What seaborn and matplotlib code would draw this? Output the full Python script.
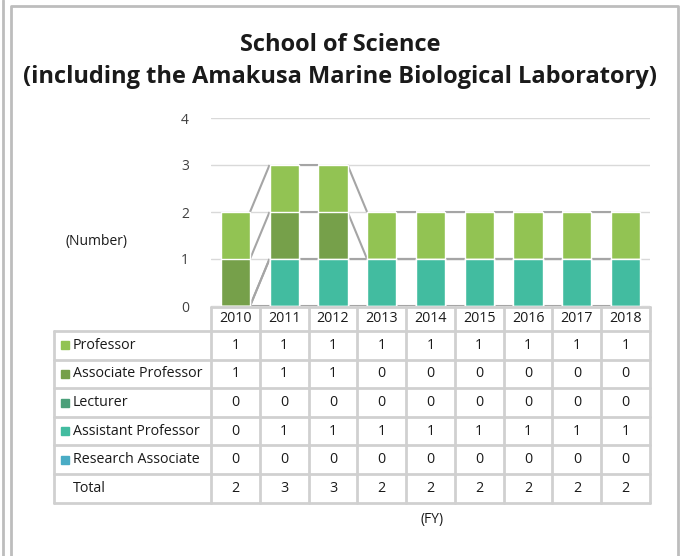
import numpy as np
import pandas as pd
import matplotlib
matplotlib.use("Agg")
import matplotlib.pyplot as plt
import seaborn as sns
from matplotlib.lines import Line2D
from matplotlib.patches import Rectangle

# data
years = ["2010", "2011", "2012", "2013", "2014", "2015", "2016", "2017", "2018"]
professor = [1, 1, 1, 1, 1, 1, 1, 1, 1]
associate_professor = [1, 1, 1, 0, 0, 0, 0, 0, 0]
lecturer = [0, 0, 0, 0, 0, 0, 0, 0, 0]
assistant_professor = [0, 1, 1, 1, 1, 1, 1, 1, 1]
research_associate = [0, 0, 0, 0, 0, 0, 0, 0, 0]

series_names = ["Professor", "Associate Professor", "Lecturer",
                "Assistant Professor", "Research Associate"]
series_vals = [professor, associate_professor, lecturer,
               assistant_professor, research_associate]
colors = ["#92c353", "#76a04a", "#4ba07a", "#42bca0", "#4aacc5"]

df = pd.DataFrame({"FY": years})
for name, vals in zip(series_names, series_vals):
    df[name] = vals
df["Total"] = df[series_names].sum(axis=1)

sns.set_style("white")
plt.rcParams["font.family"] = ["Open Sans", "DejaVu Sans"]

W, H = 681, 556
fig = plt.figure(figsize=(W / 100, H / 100), dpi=100)


def fx(x):
    return x / W


def fy(y):
    return 1 - y / H


# outer frame
fig.add_artist(Line2D([fx(2.5), fx(2.5)], [fy(0), fy(556)], color="#bdbdbd", lw=2))
fig.add_artist(Line2D([fx(10.5), fx(10.5), fx(678), fx(678)],
                      [fy(556), fy(6), fy(6), fy(556)], color="#bdbdbd", lw=2))

x0, x1, y0, y1 = 211, 650, 306, 118
ax = fig.add_axes([fx(x0), fy(y0), (x1 - x0) / W, (y0 - y1) / H])

bw = 0.6
cum = np.zeros(len(years))
cums = []
for vals in reversed(series_vals):
    cum = cum + np.array(vals)
    cums.append(cum.copy())
cums = cums[::-1]  # aligned with series_names order (top first)

for name, c, color in zip(series_names, cums, colors):
    sns.barplot(x=years, y=c, color=color, width=bw, ax=ax,
                saturation=1, zorder=3)

# series lines
for c in cums:
    for i in range(len(years) - 1):
        ax.plot([i + bw / 2, i + 1 - bw / 2], [c[i], c[i + 1]],
                color="#a5a5a5", lw=1.5, zorder=2, solid_capstyle="butt")

ax.set_ylim(0, 4)
ax.set_xlim(-0.5, len(years) - 0.5)
ax.set_yticks([0, 1, 2, 3, 4])
ax.yaxis.grid(True, color="#d9d9d9", lw=1)
ax.set_axisbelow(True)
ax.tick_params(axis="y", labelsize=10, length=0, pad=16, colors="#404040")
ax.set_xticks([])
ax.set_xlabel("")
ax.set_ylabel("")
for s in ax.spines.values():
    s.set_visible(False)

fig.text(fx(340), fy(45), "School of Science", ha="center", va="center",
         fontsize=17, fontweight="bold", color="#1a1a1a")
fig.text(fx(340), fy(77), "(including the Amakusa Marine Biological Laboratory)",
         ha="center", va="center", fontsize=17, fontweight="bold", color="#1a1a1a")
fig.text(fx(96), fy(241), "(Number)", ha="center", va="center", fontsize=10, color="#1a1a1a")
fig.text(fx(432), fy(519), "(FY)", ha="center", va="center", fontsize=10, color="#1a1a1a")

# data table
col_w = (x1 - x0) / len(years)
col_edges = [x0 + i * col_w for i in range(len(years) + 1)]
lab_x0 = 54
hdr_top, hdr_bot = 307, 331
row_h = 28.6
row_names = series_names + ["Total"]
row_vals = series_vals + [list(df["Total"])]
grid_c = "#d0d0d0"

# header row
fig.add_artist(Line2D([fx(x0), fx(x1)], [fy(hdr_top), fy(hdr_top)], color=grid_c, lw=2))
for xe in col_edges:
    fig.add_artist(Line2D([fx(xe), fx(xe)], [fy(hdr_top), fy(hdr_bot + row_h * 6)],
                          color=grid_c, lw=2))
for i, yr in enumerate(years):
    fig.text(fx(x0 + (i + 0.5) * col_w), fy((hdr_top + hdr_bot) / 2), yr,
             ha="center", va="center", fontsize=10.3, color="#1a1a1a")

for r in range(7):
    yy = hdr_bot + r * row_h
    fig.add_artist(Line2D([fx(lab_x0), fx(x1)], [fy(yy), fy(yy)], color=grid_c, lw=2))
fig.add_artist(Line2D([fx(lab_x0), fx(lab_x0)], [fy(hdr_bot), fy(hdr_bot + 6 * row_h)],
                      color=grid_c, lw=2))

for r, (name, vals) in enumerate(zip(row_names, row_vals)):
    yc = hdr_bot + (r + 0.5) * row_h
    if r < len(colors):
        fig.add_artist(Rectangle((fx(61), fy(yc + 4)), 8 / W, 8 / H,
                                 color=colors[r], transform=fig.transFigure))
    fig.text(fx(73), fy(yc), name, ha="left", va="center", fontsize=10.3, color="#1a1a1a")
    for i, v in enumerate(vals):
        fig.text(fx(x0 + (i + 0.5) * col_w), fy(yc), str(v),
                 ha="center", va="center", fontsize=10.3, color="#1a1a1a")

fig.savefig("out.png", dpi=100)
